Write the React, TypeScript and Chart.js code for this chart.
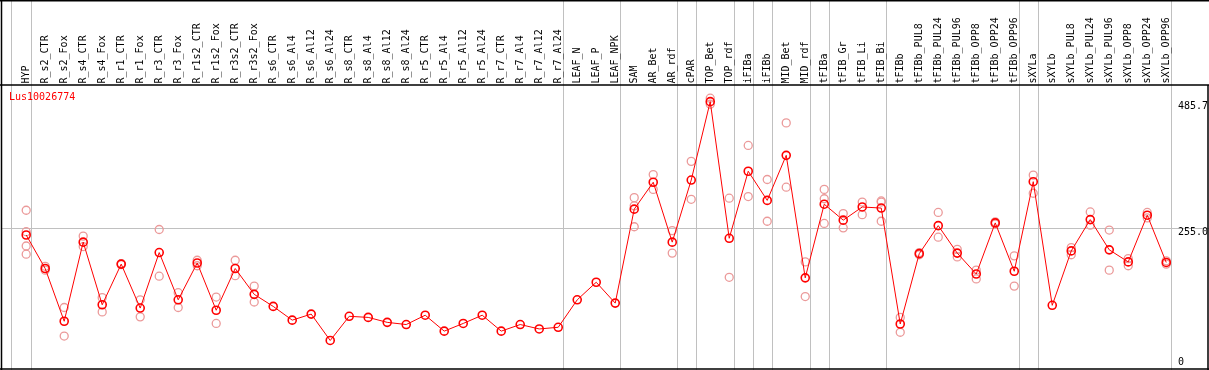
import React, { useEffect, useRef } from "react";
import { Chart, registerables } from "chart.js";

Chart.register(...registerables);

const title = "Lus10026774";

const categories = [
  "HYP", "R_s2_CTR", "R_s2_Fox", "R_s4_CTR", "R_s4_Fox", "R_r1_CTR", "R_r1_Fox",
  "R_r3_CTR", "R_r3_Fox", "R_r1s2_CTR", "R_r1s2_Fox", "R_r3s2_CTR", "R_r3s2_Fox",
  "R_s6_CTR", "R_s6_Al4", "R_s6_Al12", "R_s6_Al24", "R_s8_CTR", "R_s8_Al4",
  "R_s8_Al12", "R_s8_Al24", "R_r5_CTR", "R_r5_Al4", "R_r5_Al12", "R_r5_Al24",
  "R_r7_CTR", "R_r7_Al4", "R_r7_Al12", "R_r7_Al24", "LEAF_N", "LEAF_P", "LEAF_NPK",
  "SAM", "AR_Bet", "AR_rdf", "cPAR", "TOP_Bet", "TOP_rdf", "iFIBa", "iFIBb",
  "MID_Bet", "MID_rdf", "tFIBa", "tFIB_Gr", "tFIB_Li", "tFIB_Bi", "tFIBb",
  "tFIBb_PUL8", "tFIBb_PUL24", "tFIBb_PUL96", "tFIBb_OPP8", "tFIBb_OPP24",
  "tFIBb_OPP96", "sXYLa", "sXYLb", "sXYLb_PUL8", "sXYLb_PUL24", "sXYLb_PUL96",
  "sXYLb_OPP8", "sXYLb_OPP24", "sXYLb_OPP96",
];

const means = [
  243, 182, 86, 230, 116, 190, 110, 211, 125, 192, 106, 182, 135,
  113, 88, 99, 51, 95, 93, 84, 80, 97, 68, 82, 97, 68, 80, 72, 75,
  125, 157, 119, 290, 339, 230, 343, 485.7, 237, 359, 306, 388, 165,
  299, 270, 294, 292, 81, 209, 260, 210, 172, 265, 177, 340, 115,
  214, 271, 216, 194, 279, 193,
];

const replicates: number[][] = [
  [288, 249, 223, 208], [186, 179], [111, 59], [241, 222], [129, 103],
  [191, 189], [125, 94], [253, 168], [138, 111], [197, 187], [130, 82],
  [197, 169], [150, 121],
  [], [], [], [], [], [], [], [], [], [], [], [], [], [], [], [],
  [], [], [],
  [311, 296, 258], [353, 326], [251, 210], [377, 308], [492, 481],
  [310, 166], [406, 313], [344, 268], [447, 330], [194, 131],
  [326, 309, 264], [282, 256], [303, 280], [305, 303, 268], [93, 66],
  [211, 207], [284, 239], [217, 203], [179, 163], [267, 263], [205, 150],
  [352, 319], [], [220, 207], [285, 261], [252, 179], [200, 187],
  [284, 274], [190, 196],
];

// last category index of each group (vertical separators drawn after them)
const groupEnds = [0, 28, 31, 34, 35, 37, 38, 39, 41, 42, 45, 52, 53];

const yTickValues = [485.7, 255, 0];
const yTickLabels = ["485.7", "255.0", "0"];
const gridValues = [255];

const FONT = '10px "DejaVu Sans Mono", monospace';

export default function App() {
  const ref = useRef<HTMLCanvasElement | null>(null);

  useEffect(() => {
    document.body.style.margin = "0";
    const canvas = ref.current;
    if (!canvas) return;

    const meanPts = means.map((v, i) => ({ x: i, y: v }));
    const repPts: { x: number; y: number }[] = [];
    replicates.forEach((arr, i) => arr.forEach((v) => repPts.push({ x: i, y: v })));

    const framePlugin = {
      id: "frame",
      beforeDatasetsDraw(chart: any) {
        const { ctx, chartArea, scales } = chart;
        const xs = scales.x;
        const ys = scales.y;
        ctx.save();
        ctx.strokeStyle = "#c0c0c0";
        ctx.lineWidth = 1;
        gridValues.forEach((v) => {
          const y = Math.round(ys.getPixelForValue(v)) + 0.5;
          ctx.beginPath();
          ctx.moveTo(chartArea.left - 10, y);
          ctx.lineTo(chart.width, y);
          ctx.stroke();
        });
        const seps = [chartArea.left - 0.5, ...groupEnds.map((g) => xs.getPixelForValue(g + 0.24)), chartArea.right];
        seps.forEach((px) => {
          const x = Math.round(px) + 0.5;
          ctx.beginPath();
          ctx.moveTo(x, 0);
          ctx.lineTo(x, chart.height);
          ctx.stroke();
        });
        ctx.restore();
      },
      afterDraw(chart: any) {
        const { ctx, chartArea, scales } = chart;
        const xs = scales.x;
        const ys = scales.y;
        ctx.save();
        ctx.strokeStyle = "#000";
        ctx.lineWidth = 1.5;
        ctx.beginPath();
        ctx.moveTo(0, 0.75);
        ctx.lineTo(chart.width, 0.75);
        ctx.moveTo(0, 85);
        ctx.lineTo(chart.width, 85);
        ctx.moveTo(0, 369);
        ctx.lineTo(chart.width, 369);
        ctx.moveTo(1.5, 0);
        ctx.lineTo(1.5, chart.height);
        ctx.moveTo(chart.width - 1, 85);
        ctx.lineTo(chart.width - 1, chart.height);
        ctx.stroke();

        ctx.font = FONT;
        ctx.fillStyle = "#000";
        ctx.textAlign = "left";
        ctx.textBaseline = "middle";
        categories.forEach((c, i) => {
          const x = xs.getPixelForValue(i);
          ctx.save();
          ctx.translate(x + 0.5, 83.5);
          ctx.rotate(-Math.PI / 2);
          ctx.fillText(c, 0, 0);
          ctx.restore();
        });

        ctx.fillStyle = "#ff0000";
        ctx.textBaseline = "middle";
        ctx.fillText(title, 9, 97);

        ctx.fillStyle = "#000";
        yTickValues.forEach((v, k) => {
          const y = ys.getPixelForValue(v);
          const yy = v === 0 ? y - 6 : y + 4.5;
          ctx.fillText(yTickLabels[k], chartArea.right + 7, yy);
        });
        ctx.restore();
      },
    };

    const chart = new Chart(canvas, {
      type: "line",
      data: {
        datasets: [
          {
            label: "mean",
            data: meanPts,
            borderColor: "#ff0000",
            borderWidth: 1,
            pointRadius: 4,
            pointBorderWidth: 1.6,
            pointBorderColor: "#ff0000",
            pointBackgroundColor: "rgba(0,0,0,0)",
            tension: 0,
            fill: false,
          },
          {
            label: "replicates",
            data: repPts,
            showLine: false,
            pointRadius: 4,
            pointBorderWidth: 1.3,
            pointBorderColor: "#eb9a9a",
            pointBackgroundColor: "rgba(0,0,0,0)",
            borderColor: "#eb9a9a",
          },
        ],
      },
      options: {
        animation: false,
        responsive: false,
        maintainAspectRatio: false,
        layout: { autoPadding: false, padding: { left: 11, right: 38, top: 85, bottom: 1.5 } },
        scales: {
          x: { type: "linear", min: -0.8, max: 60.25, display: false },
          y: { type: "linear", min: 0, max: 516, display: false },
        },
        plugins: {
          legend: { display: false },
          tooltip: { enabled: false },
        },
      },
      plugins: [framePlugin],
    });

    return () => chart.destroy();
  }, []);

  return (
    <div style={{ width: 1209, height: 370, background: "#fff" }}>
      <canvas ref={ref} width={1209} height={370} style={{ display: "block" }} />
    </div>
  );
}
